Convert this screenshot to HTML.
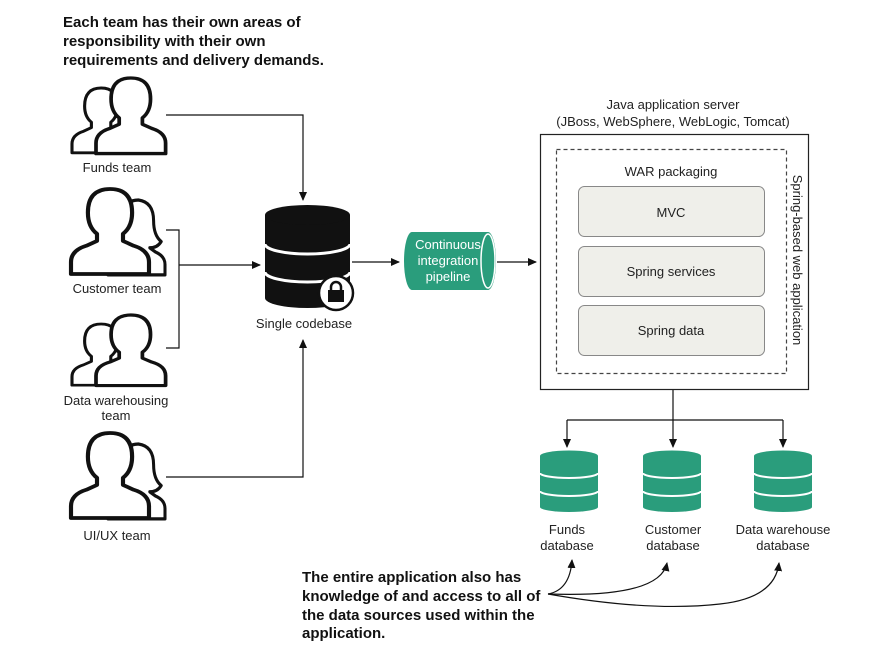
<!DOCTYPE html>
<html><head><meta charset="utf-8"><style>
body{margin:0;background:#fff}
svg{display:block}
text{font-family:"Liberation Sans",Arial,sans-serif;font-size:13px;fill:#222}
.b{font-weight:bold;font-size:15px;fill:#111;font-family:"Liberation Sans Narrow","Liberation Sans",sans-serif}
.w{fill:#fff}
</style></head><body>
<svg width="881" height="651" viewBox="0 0 881 651" xmlns="http://www.w3.org/2000/svg">
<defs>
<path id="p" d="M0,72 L0,62 Q0,52 12,48 L20,44 L20,38 Q13,32 13,20 Q13,0 30,0 Q47,0 47,20 Q47,32 40,38 L40,44 L48,48 Q60,52 60,62 L60,72 Z" fill="#fff" stroke="#111" stroke-width="3.2" stroke-linejoin="round"/>
<path id="f" d="M0,72 L0,62 Q0,54 10,50 L20,46 Q12,42 12,34 Q14,26 14,18 Q16,0 32,0 Q48,2 48,20 Q48,34 56,40 Q52,46 44,46 L50,50 Q60,54 60,62 L60,72 Z" fill="#fff" stroke="#111" stroke-width="3.2" stroke-linejoin="round"/>
<marker id="a" markerWidth="10" markerHeight="10" refX="8" refY="4" orient="auto" markerUnits="userSpaceOnUse"><path d="M0,0 L9,4 L0,8 Z" fill="#111"/></marker>
</defs>
<text class="b" x="63" y="27">Each team has their own areas of</text>
<text class="b" x="63" y="46">responsibility with their own</text>
<text class="b" x="63" y="65">requirements and delivery demands.</text>

<!-- people -->
<g transform="translate(72,88) scale(0.97,0.9)"><use href="#p"/></g>
<g transform="translate(96,78) scale(1.16,1.05)"><use href="#p"/></g>
<text x="117" y="172" text-anchor="middle">Funds team</text>

<g transform="translate(108,200) scale(0.95,1.04)"><use href="#f"/></g>
<g transform="translate(71,189) scale(1.3,1.18)"><use href="#p"/></g>
<text x="117" y="293" text-anchor="middle">Customer team</text>

<g transform="translate(72,324) scale(0.97,0.85)"><use href="#p"/></g>
<g transform="translate(96,315) scale(1.16,0.98)"><use href="#p"/></g>
<text x="116" y="405" text-anchor="middle">Data warehousing</text>
<text x="116" y="420" text-anchor="middle">team</text>

<g transform="translate(108,444) scale(0.95,1.04)"><use href="#f"/></g>
<g transform="translate(71,433) scale(1.3,1.18)"><use href="#p"/></g>
<text x="117" y="540" text-anchor="middle">UI/UX team</text>

<!-- connectors -->
<g stroke="#111" stroke-width="1.2" fill="none">
<path d="M166,115 H303 V200" marker-end="url(#a)"/>
<path d="M166,230 H179 V348 H166"/>
<path d="M179,265 H260" marker-end="url(#a)"/>
<path d="M166,477 H303 V340" marker-end="url(#a)"/>
<path d="M352,262 H399" marker-end="url(#a)"/>
<path d="M497,262 H536" marker-end="url(#a)"/>
<path d="M673,390 V420 M567,420 H783"/>
<path d="M567,420 V447" marker-end="url(#a)"/>
<path d="M673,420 V447" marker-end="url(#a)"/>
<path d="M783,420 V447" marker-end="url(#a)"/>
<path d="M548,594 Q570,590 572,560" marker-end="url(#a)"/>
<path d="M548,594 Q660,598 667,563" marker-end="url(#a)"/>
<path d="M548,594 Q650,612 720,604 Q775,598 779,563" marker-end="url(#a)"/>
</g>

<!-- codebase -->
<g>
<path d="M265,215 V298 A42.5,10 0 0 0 350,298 V215 Z" fill="#111"/>
<ellipse cx="307.5" cy="215" rx="42.5" ry="10" fill="#111"/>
<path d="M265,244 A42.5,10 0 0 0 350,244" stroke="#fff" stroke-width="3" fill="none"/>
<path d="M265,272 A42.5,10 0 0 0 350,272" stroke="#fff" stroke-width="3" fill="none"/>
<circle cx="336" cy="293" r="17" fill="#fff" stroke="#111" stroke-width="2.5"/>
<circle cx="336" cy="293" r="14" fill="#fff"/>
<path d="M331,291 V287 A5,5 0 0 1 341,287 V291" stroke="#111" stroke-width="2.5" fill="none"/>
<rect x="328" y="290" width="16" height="12" fill="#111"/>
</g>
<text x="304" y="328" text-anchor="middle">Single codebase</text>

<!-- CI pipeline -->
<path d="M412,232 H488 A8,29 0 0 1 488,290 H412 A8,29 0 0 1 412,232 Z" fill="#2a9d7c"/>
<ellipse cx="488" cy="261" rx="7" ry="27" fill="none" stroke="#fff" stroke-width="1.5"/>
<text x="448" y="249" text-anchor="middle" class="w">Continuous</text>
<text x="448" y="265" text-anchor="middle" class="w">integration</text>
<text x="448" y="281" text-anchor="middle" class="w">pipeline</text>

<!-- server -->
<text x="673" y="109" text-anchor="middle">Java application server</text>
<text x="673" y="126" text-anchor="middle">(JBoss, WebSphere, WebLogic, Tomcat)</text>
<rect x="540.5" y="134.5" width="268" height="255" fill="#fff" stroke="#222" stroke-width="1.2"/>
<rect x="556.5" y="149.5" width="230" height="224" fill="none" stroke="#444" stroke-width="1.2" stroke-dasharray="4,3"/>
<text x="671" y="176" text-anchor="middle">WAR packaging</text>
<g fill="#efefea" stroke="#888" stroke-width="1">
<rect x="578.5" y="186.5" width="186" height="50" rx="6"/>
<rect x="578.5" y="246.5" width="186" height="50" rx="6"/>
<rect x="578.5" y="305.5" width="186" height="50" rx="6"/>
</g>
<text x="671" y="217" text-anchor="middle">MVC</text>
<text x="671" y="276" text-anchor="middle">Spring services</text>
<text x="671" y="335" text-anchor="middle">Spring data</text>
<text transform="translate(793,260) rotate(90)" text-anchor="middle">Spring-based web application</text>

<!-- dbs -->
<g id="db">
<path d="M540,456 V507 A29,5 0 0 0 598,507 V456 Z" fill="#2a9d7c"/>
<ellipse cx="569" cy="456" rx="29" ry="5.5" fill="#2a9d7c"/>
<path d="M540,473 A29,5 0 0 0 598,473 M540,491 A29,5 0 0 0 598,491" stroke="#fff" stroke-width="2" fill="none"/>
</g>
<use href="#db" x="103"/>
<use href="#db" x="214"/>
<text x="567" y="534" text-anchor="middle">Funds</text>
<text x="567" y="550" text-anchor="middle">database</text>
<text x="673" y="534" text-anchor="middle">Customer</text>
<text x="673" y="550" text-anchor="middle">database</text>
<text x="783" y="534" text-anchor="middle">Data warehouse</text>
<text x="783" y="550" text-anchor="middle">database</text>

<text class="b" x="302" y="582">The entire application also has</text>
<text class="b" x="302" y="601">knowledge of and access to all of</text>
<text class="b" x="302" y="620">the data sources used within the</text>
<text class="b" x="302" y="638">application.</text>
</svg>
</body></html>
